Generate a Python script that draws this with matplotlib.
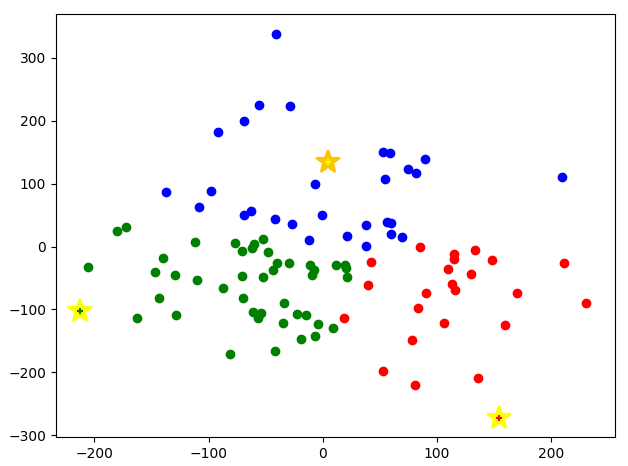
import matplotlib
matplotlib.use("Agg")
import matplotlib.pyplot as plt

# cluster points
blue_x = [-41, -56, -29, -69, -92, -137.5, -98, -108.5, -69.3, -62.9, -41.8, -26.9, -0.6, -12, 21.3, -6.8,
          52.9, 59, 89.7, 74.3, 81.9, 54.7, 209.9, 56.1, 60, 38, 59.6, 69.6, 38]
blue_y = [338, 226, 223, 199, 183, 87, 89, 63, 50.5, 57, 44, 36, 50.5, 10.7, 17, 100,
          150.8, 149, 139.6, 123, 117, 108, 111, 39.8, 37.7, 34.5, 20, 15.4, 1]

green_x = [-180.4, -172.5, -205.9, -112, -140, -147, -129.5, -110, -143.6, -163, -128.7, -87.5,
           -77, -70.8, -62, -60.3, -52.4, -48, -70.8, -52.4, -40, -43.6, -29.6, -70, -81.3,
           -61, -56.7, -54, -34, -34.8, -41.8, -22.5, -14.6, -19, -6.8, -4.1, 9, -11.1, -7.6,
           -9.4, 11.7, 19.6, 20.4, 21.3]
green_y = [25, 31.3, -32, 7.5, -18, -40, -45, -53, -82, -113.5, -109, -66,
           6, -7, -2.7, 4.3, 12.2, -8.5, -46.7, -48, -26, -38, -26, -82, -171,
           -104, -113.5, -105.6, -89.6, -121.5, -166, -107, -108.8, -147, -142, -123, -129.5, -29, -36.6,
           -45, -29, -29, -34, -48]

red_x = [18.7, 85.4, 42.4, 115.2, 115.2, 133.6, 148.5, 110, 130, 211.7, 39.8, 113.5, 116, 90.6,
         170.5, 230.7, 83.6, 106.4, 160, 78.3, 52.9, 81, 136.2]
red_y = [-113, -0.5, -24.4, -11.7, -20, -5.3, -21.2, -35.6, -43.6, -26, -61, -59, -69, -73.7,
         -73.7, -89.7, -97.7, -121.5, -124.7, -148.6, -198, -220, -209]

# centroids (star markers)
star_x = [-213, 5, 154]
star_y = [-103, 134, -272]
star_colors = ["yellow", "#FFC400", "yellow"]
center_colors = ["green", "yellow", "red"]

fig, ax = plt.subplots(figsize=(6.28, 4.66), dpi=100)
fig.subplots_adjust(left=56 / 628, right=615 / 628, top=1 - 14 / 466, bottom=1 - 437 / 466)
ax.scatter(blue_x, blue_y, c="b")
ax.scatter(green_x, green_y, c="g")
ax.scatter(red_x, red_y, c="r")
for x, y, sc, cc in zip(star_x, star_y, star_colors, center_colors):
    ax.plot(x, y, marker="*", markersize=18, color=sc, markeredgewidth=1.5)
    ax.plot(x, y, marker="+", markersize=4, color=cc, markeredgewidth=1.5)

ax.set_xlim(-233.6, 256)
ax.set_ylim(-303, 370)
fig.savefig("out.png", dpi=100)
